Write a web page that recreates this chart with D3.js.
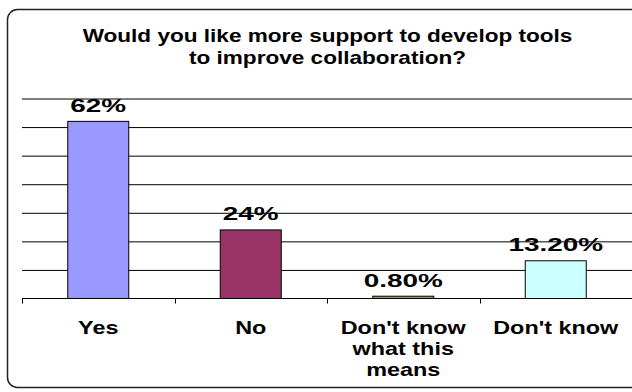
<!DOCTYPE html>
<html>
<head>
<meta charset="utf-8">
<script src="https://d3js.org/d3.v7.min.js"></script>
<style type="text/css">
    body {
        margin: 0;
        background: #ffffff;
    }

    #chart {
        font-family: "Liberation Sans", Arial, sans-serif;
    }
</style>
</head>
<body>
<div id="chart"></div>
<script>
    // data
    var categories = ["Yes", "No", "Don't know what this means", "Don't know"];
    var categoryLines = [["Yes"], ["No"], ["Don't know", "what this", "means"], ["Don't know"]];
    var values = [62, 24, 0.8, 13.2];
    var valueLabels = ["62%", "24%", "0.80%", "13.20%"];
    var barColors = ["#9999FF", "#993366", "#9C9874", "#CCFFFF"];
    var gridTicks = [10, 20, 30, 40, 50, 60, 70];
    var titleLines = ["Would you like more support to develop tools", "to improve collaboration?"];

    var W = 632, H = 392;
    var plot = { left: 22, right: 632, top: 98.5, bottom: 298.5 };

    var svg = d3.select("#chart")
        .append("svg")
        .attr("width", W)
        .attr("height", H);

    // outer rounded frame (right side runs off the picture)
    svg.append("rect")
        .attr("x", 7.5)
        .attr("y", 9.5)
        .attr("width", 645)
        .attr("height", 378)
        .attr("rx", 10)
        .attr("fill", "#ffffff")
        .attr("stroke", "#222222")
        .attr("stroke-width", 1.5);

    // title
    svg.append("g")
        .selectAll("text")
        .data(titleLines)
        .enter().append("text")
        .attr("transform", function(d, i) { return "translate(327.5," + (42 + i * 22) + ") scale(1.29,1)"; })
        .attr("text-anchor", "middle")
        .attr("font-size", "17.5px")
        .attr("font-weight", "bold")
        .attr("fill", "#000000")
        .text(function(d) { return d; });

    var x = d3.scaleBand()
        .domain(categories)
        .range([plot.left, plot.right])
        .paddingInner(0.6)
        .paddingOuter(0.3);

    var y = d3.scaleLinear()
        .domain([0, 70])
        .range([plot.bottom, plot.top]);

    // horizontal gridlines
    svg.append("g")
        .attr("transform", "translate(" + plot.left + ",0)")
        .call(d3.axisRight(y).tickValues(gridTicks).tickSize(plot.right - plot.left).tickFormat(""))
        .call(function(g) { g.select(".domain").remove(); })
        .selectAll("line")
        .attr("stroke", "#000000")
        .attr("stroke-width", 1);

    // category axis with ticks on band edges
    var edges = d3.scaleLinear().domain([0, categories.length]).range([plot.left, plot.right]);
    var xAxis = svg.append("g")
        .attr("transform", "translate(0," + plot.bottom + ")");
    xAxis.append("line")
        .attr("x1", plot.left)
        .attr("x2", plot.right)
        .attr("stroke", "#000000");
    xAxis.selectAll(".tick")
        .data(d3.range(categories.length + 1))
        .enter().append("line")
        .attr("class", "tick")
        .attr("x1", function(d) { return Math.round(edges(d)) + 0.5; })
        .attr("x2", function(d) { return Math.round(edges(d)) + 0.5; })
        .attr("y1", 0)
        .attr("y2", 5)
        .attr("stroke", "#000000");

    // bars
    svg.append("g")
        .selectAll("rect")
        .data(values)
        .enter().append("rect")
        .attr("x", function(d, i) { return x(categories[i]); })
        .attr("y", function(d) { return y(d); })
        .attr("width", x.bandwidth())
        .attr("height", function(d) { return y(0) - y(d); })
        .attr("fill", function(d, i) { return barColors[i]; })
        .attr("stroke", "#000000")
        .attr("stroke-width", 1);

    // value labels
    svg.append("g")
        .selectAll("text")
        .data(values)
        .enter().append("text")
        .attr("transform", function(d, i) {
            return "translate(" + (x(categories[i]) + x.bandwidth() / 2) + "," + (y(d) - 9.5) + ") scale(1.55,1)";
        })
        .attr("text-anchor", "middle")
        .attr("font-size", "18px")
        .attr("font-weight", "bold")
        .attr("fill", "#000000")
        .text(function(d, i) { return valueLabels[i]; });

    // category labels
    var catGroups = svg.append("g")
        .selectAll("g")
        .data(categories)
        .enter().append("g")
        .attr("transform", function(d) { return "translate(" + (x(d) + x.bandwidth() / 2) + ",0)"; });
    catGroups.selectAll("text")
        .data(function(d, i) { return categoryLines[i]; })
        .enter().append("text")
        .attr("transform", function(d, i) { return "translate(0," + (334 + i * 21) + ") scale(1.3,1)"; })
        .attr("text-anchor", "middle")
        .attr("font-size", "18px")
        .attr("font-weight", "bold")
        .attr("fill", "#000000")
        .text(function(d) { return d; });
</script>
</body>
</html>
